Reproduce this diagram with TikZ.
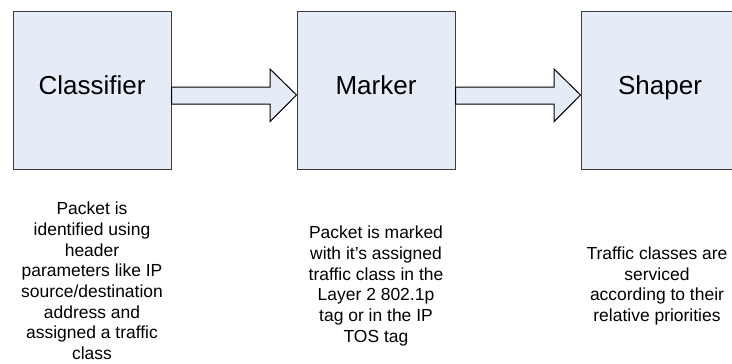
\documentclass[tikz,border=0pt]{standalone}
\usepackage{fontspec}
\setmainfont{Liberation Sans}
\usetikzlibrary{calc}

\definecolor{boxfill}{RGB}{230,236,247}
\definecolor{boxline}{RGB}{60,60,60}

\tikzset{
  stage/.style={draw=boxline, fill=boxfill, line width=0.75pt,
    minimum width=118.5pt, minimum height=118.5pt, inner sep=0pt,
    font=\fontsize{19.5}{23}\selectfont, text height=0.72em, text depth=0pt},
  note/.style={align=center, inner sep=0pt,
    font=\fontsize{13.1}{15.5}\selectfont},
  flow/.style={draw=black, fill=boxfill, line width=0.75pt, line join=miter}
}

\begin{document}
\begin{tikzpicture}[x=0.75pt, y=-0.75pt]
  \useasboundingbox (0,0) rectangle (732,364);
  \clip (0,0) rectangle (732,364);

  % processing stages
  \node[stage] (cls) at (92,90)  {Classifier};
  \node[stage] (mrk) at (376,90) {Marker};
  \node[stage] (shp) at (660,90) {Shaper};

  % block arrows between the stages
  \draw[flow] ($(cls.east)+(0,-3)$) -- ($(mrk.west)+(-26.5,-3)$)
    -- ($(mrk.west)+(-26.5,-21)$) -- ($(mrk.west)+(0,5)$)
    -- ($(mrk.west)+(-26.5,31.7)$) -- ($(mrk.west)+(-26.5,14)$)
    -- ($(cls.east)+(0,14)$) -- cycle;
  \draw[flow] ($(mrk.east)+(0,-3)$) -- ($(shp.west)+(-26.5,-3)$)
    -- ($(shp.west)+(-26.5,-21)$) -- ($(shp.west)+(0,5)$)
    -- ($(shp.west)+(-26.5,31.7)$) -- ($(shp.west)+(-26.5,14)$)
    -- ($(mrk.east)+(0,14)$) -- cycle;

  % descriptions below each stage
  \node[note] (clsnote) at (92,281) {Packet is\\identified using\\header\\parameters like IP\\source/destination\\address and\\assigned a traffic\\class};
  \node[note] (mrknote) at (376,286) {Packet is marked\\with it’s assigned\\traffic class in the\\Layer 2 802.1p\\tag or in the IP\\TOS tag};
  \node[note] (shpnote) at (657,286) {Traffic classes are\\serviced\\according to their\\relative priorities};
\end{tikzpicture}
\end{document}
